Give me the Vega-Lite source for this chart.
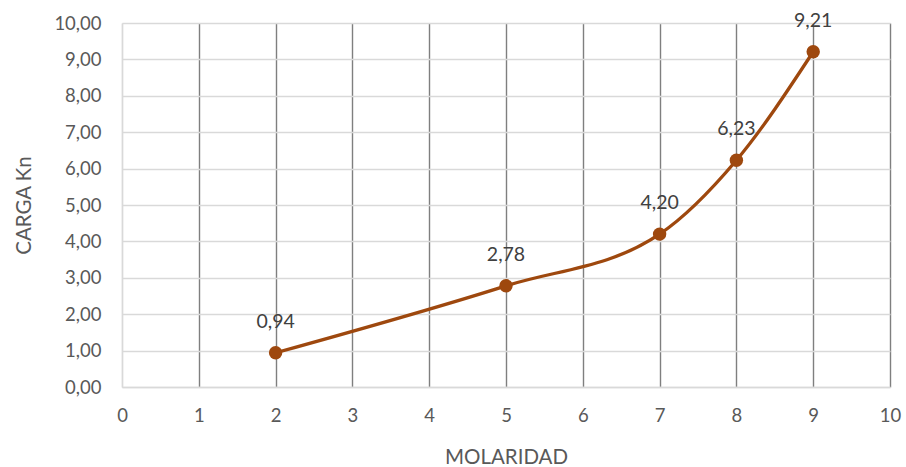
{
  "$schema": "https://vega.github.io/schema/vega-lite/v6.json",
  "autosize": "none",
  "width": 768,
  "height": 364,
  "padding": {"left": 122, "top": 23, "right": 16, "bottom": 80},
  "background": "white",
  "data": {"values": [
    {"molaridad": 2, "carga": 0.94},
    {"molaridad": 5, "carga": 2.78},
    {"molaridad": 7, "carga": 4.20},
    {"molaridad": 8, "carga": 6.23},
    {"molaridad": 9, "carga": 9.21}
  ]},
  "config": {
    "view": {"stroke": null},
    "font": "Lato",
    "axis": {"labelFont": "Lato", "titleFont": "Lato", "labelColor": "#595959", "titleColor": "#595959", "titleFontWeight": "normal", "labelFontSize": 18.5, "titleFontSize": 20.5}
  },
  "encoding": {
    "x": {"field": "molaridad", "type": "quantitative",
      "scale": {"domain": [0, 10], "nice": false},
      "axis": {"title": "MOLARIDAD", "values": [0,1,2,3,4,5,6,7,8,9,10], "format": "d",
        "grid": true, "gridColor": {"condition": {"test": "datum.value == 0", "value": "#d9d9d9"}, "value": "#7f7f7f"}, "gridWidth": 1.4,
        "domainColor": "#d9d9d9", "domainWidth": 1.4, "ticks": false, "labelPadding": 19, "titleY": 60, "titleBaseline": "top", "labelFlush": false}},
    "y": {"field": "carga", "type": "quantitative",
      "scale": {"domain": [0, 10], "nice": false},
      "axis": {"title": "CARGA Kn", "values": [0,1,2,3,4,5,6,7,8,9,10],
        "labelExpr": "replace(format(datum.value, '.2f'), '.', ',')",
        "grid": true, "gridColor": "#d9d9d9", "gridWidth": 1.4, "domain": true, "domainColor": "#d9d9d9", "domainWidth": 1.4,
        "ticks": false, "labelPadding": 21, "titleX": -88, "titleAnchor": "middle"}}
  },
  "layer": [
    {"mark": {"type": "line", "interpolate": "monotone", "color": "#9E480E", "strokeWidth": 3.3}},
    {"mark": {"type": "point", "filled": true, "opacity": 1, "color": "#9E480E", "size": 180}},
    {"mark": {"type": "text", "dy": -31, "fontSize": 19.5, "color": "#404040", "font": "Lato",
      "text": {"expr": "replace(format(datum.carga, '.2f'), '.', ',')"}}}
  ]
}
